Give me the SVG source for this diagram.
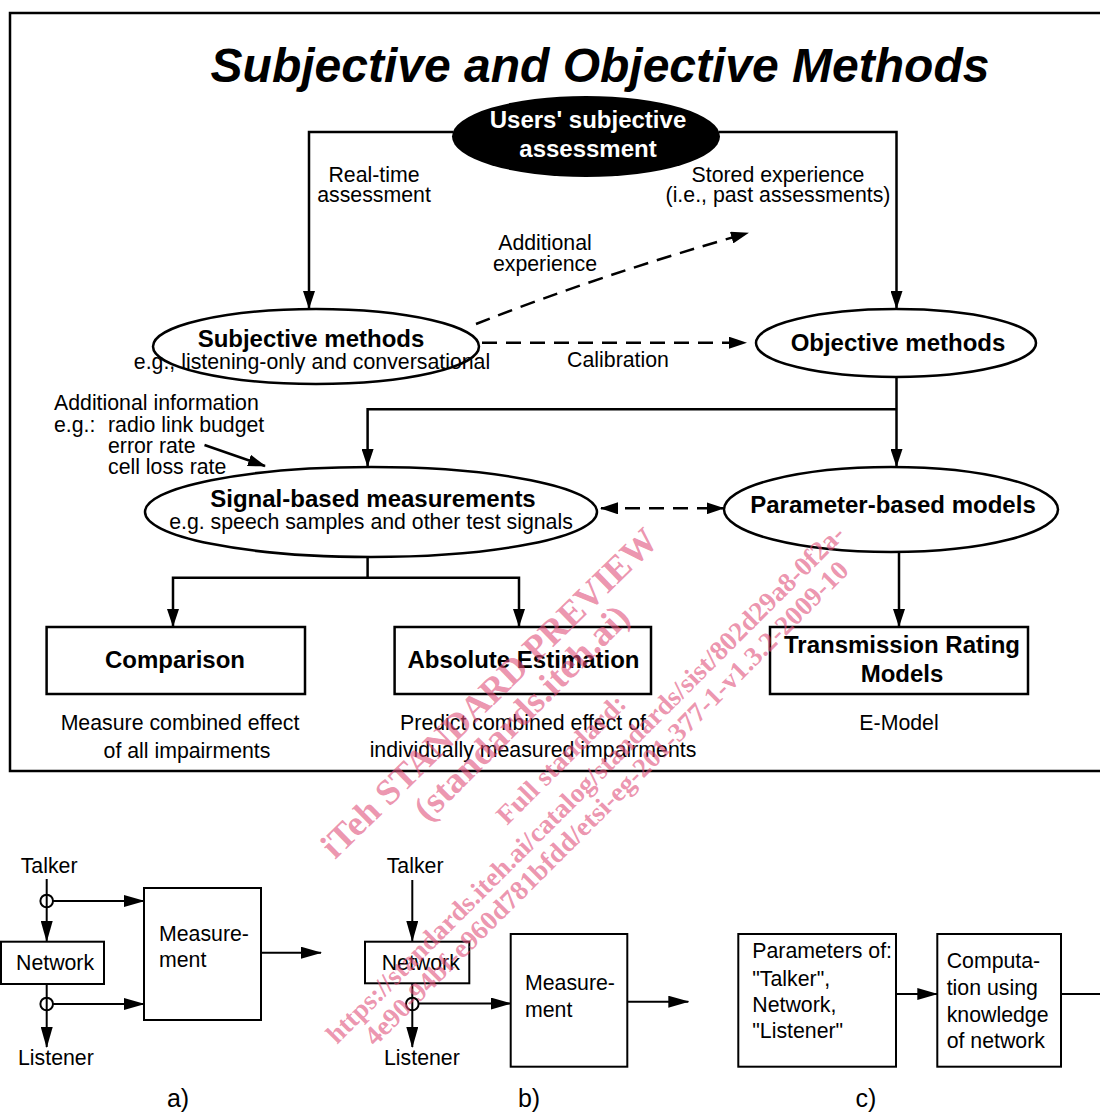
<svg xmlns="http://www.w3.org/2000/svg" width="1100" height="1115" viewBox="0 0 1100 1115">
<style>
text{font-family:"Liberation Sans",Arial,Helvetica,sans-serif;fill:#000}
.t{font-size:21.3px}
.b{font-size:24px;font-weight:bold}
.c{text-anchor:middle}
.title{font-size:48px;font-weight:bold;font-style:italic;text-anchor:middle}
.ln{fill:none;stroke:#000;stroke-width:2.5}
.ln2{fill:none;stroke:#000;stroke-width:2}
.dash{stroke-dasharray:15 9}
.node{fill:#fff;stroke:#000;stroke-width:2.5}
.box2{fill:#fff;stroke:#000;stroke-width:2}
.wm{font-family:"Liberation Serif","Times New Roman",serif;font-weight:bold;fill:#e0507a;fill-opacity:0.62}
</style>
<defs>
<marker id="ah" markerUnits="userSpaceOnUse" markerWidth="18" markerHeight="12" refX="17" refY="6" orient="auto-start-reverse"><path d="M0,0 L18,6 L0,12 z" fill="#000"/></marker>
<marker id="ah2" markerUnits="userSpaceOnUse" markerWidth="21" markerHeight="12" refX="20" refY="6" orient="auto"><path d="M0,0 L21,6 L0,12 z" fill="#000"/></marker>
</defs>
<rect width="1100" height="1115" fill="#fff"/>
<path class="ln" d="M1104,13 H10 V771 H1104"/>
<text class="title" x="600" y="82">Subjective and Objective Methods</text>

<g id="connectors">
<path class="ln" d="M453,132 H309 V308" marker-end="url(#ah)"/>
<path class="ln" d="M719,132 H896.5 V308" marker-end="url(#ah)"/>
<path class="ln dash" d="M476,324 Q600,275 748,233" marker-end="url(#ah)"/>
<path class="ln dash" d="M482,342.7 H746" marker-end="url(#ah)"/>
<path class="ln" d="M896.5,377 V466" marker-end="url(#ah)"/>
<path class="ln" d="M896.5,409.3 H367.6 V466" marker-end="url(#ah)"/>
<path class="ln" d="M204.5,445 L265,466" marker-end="url(#ah)"/>
<path class="ln dash" d="M601,508.3 H723.6" marker-start="url(#ah)" marker-end="url(#ah)"/>
<path class="ln" d="M367.6,557 V577.7 H173 V626" marker-end="url(#ah)"/>
<path class="ln" d="M367.6,577.7 H519 V626" marker-end="url(#ah)"/>
<path class="ln" d="M899,552 V626" marker-end="url(#ah)"/>
<path class="ln2" d="M46.7,879 V941" marker-end="url(#ah2)"/>
<path class="ln2" d="M53,901 H144" marker-end="url(#ah2)"/>
<path class="ln2" d="M46.7,984 V1047" marker-end="url(#ah2)"/>
<path class="ln2" d="M53,1004 H144" marker-end="url(#ah2)"/>
<path class="ln2" d="M261,952.7 H321" marker-end="url(#ah2)"/>
<path class="ln2" d="M412.3,880 V941" marker-end="url(#ah2)"/>
<path class="ln2" d="M412.3,983.3 V1047" marker-end="url(#ah2)"/>
<path class="ln2" d="M418.5,1003.5 H510.7" marker-end="url(#ah2)"/>
<path class="ln2" d="M627.3,1001.7 H688.3" marker-end="url(#ah2)"/>
<path class="ln2" d="M896,994 H937.3" marker-end="url(#ah2)"/>
<path class="ln2" d="M1061,994 H1120" marker-end="url(#ah2)"/>
<circle class="ln2" cx="46.7" cy="901" r="6.3"/>
<circle class="ln2" cx="46.7" cy="1004" r="6.3"/>
<circle class="ln2" cx="412.3" cy="1004" r="6.3"/>
</g>

<g id="labels">
<text class="t c" x="374" y="182">Real-time</text>
<text class="t c" x="374" y="202">assessment</text>
<text class="t c" x="778" y="182">Stored experience</text>
<text class="t c" x="778" y="202">(i.e., past assessments)</text>
<text class="t c" x="545" y="250">Additional</text>
<text class="t c" x="545" y="271">experience</text>
<text class="t c" x="618" y="367">Calibration</text>
<text class="t" x="54" y="410">Additional information</text>
<text class="t" x="54" y="432">e.g.:</text>
<text class="t" x="108" y="432">radio link budget</text>
<text class="t" x="108" y="452.5">error rate</text>
<text class="t" x="108" y="473.5">cell loss rate</text>
<text class="t c" x="180" y="730">Measure combined effect</text>
<text class="t c" x="187" y="758">of all impairments</text>
<text class="t c" x="523" y="730">Predict combined effect of</text>
<text class="t c" x="533" y="757">individually measured impairments</text>
<text class="t c" x="899" y="730">E-Model</text>
<text class="t c" x="178" y="1107" style="font-size:25px">a)</text>
<text class="t c" x="529" y="1107" style="font-size:25px">b)</text>
<text class="t c" x="866" y="1107" style="font-size:25px">c)</text>
<text class="t" x="20.7" y="872.7">Talker</text>
<text class="t" x="18" y="1065">Listener</text>
<text class="t" x="386.7" y="872.7">Talker</text>
<text class="t" x="384" y="1065">Listener</text>
</g>

<g id="users">
<ellipse cx="586" cy="136.5" rx="134" ry="40.5" fill="#000"/>
<text class="b c" x="588" y="128" style="fill:#fff">Users' subjective</text>
<text class="b c" x="588" y="157" style="fill:#fff">assessment</text>
</g>
<g id="subjective">
<ellipse class="node" cx="316" cy="346.5" rx="163" ry="37.5"/>
<text class="b c" x="311" y="347">Subjective methods</text>
<text class="t c" x="312" y="369">e.g., listening-only and conversational</text>
</g>
<g id="objective">
<ellipse class="node" cx="896" cy="343" rx="140" ry="34"/>
<text class="b c" x="898" y="351">Objective methods</text>
</g>
<g id="signal">
<ellipse class="node" cx="371" cy="512" rx="226" ry="45"/>
<text class="b c" x="373" y="507">Signal-based measurements</text>
<text class="t c" x="371" y="529">e.g. speech samples and other test signals</text>
</g>
<g id="parameter">
<ellipse class="node" cx="891" cy="509.5" rx="167" ry="42.5"/>
<text class="b c" x="893" y="513">Parameter-based models</text>
</g>
<g id="comparison">
<rect class="node" x="46.6" y="627" width="258.4" height="67"/>
<text class="b c" x="175" y="668">Comparison</text>
</g>
<g id="absolute">
<rect class="node" x="394.6" y="627" width="256.4" height="67"/>
<text class="b c" x="523.5" y="668">Absolute Estimation</text>
</g>
<g id="transmission">
<rect class="node" x="770" y="627" width="258" height="67"/>
<text class="b c" x="902" y="653">Transmission Rating</text>
<text class="b c" x="902" y="682">Models</text>
</g>

<g id="network-a">
<rect class="box2" x="1" y="941.7" width="103" height="42.3"/>
<text class="t" x="16" y="970">Network</text>
</g>
<g id="measurement-a">
<rect class="box2" x="144" y="888" width="117" height="132"/>
<text class="t" x="159" y="940.7">Measure-</text>
<text class="t" x="159" y="967.3">ment</text>
</g>
<g id="network-b">
<rect class="box2" x="365" y="941.7" width="104.3" height="41.6"/>
<text class="t" x="381.7" y="970">Network</text>
</g>
<g id="measurement-b">
<rect class="box2" x="510.7" y="934" width="116.6" height="132.7"/>
<text class="t" x="525" y="990">Measure-</text>
<text class="t" x="525" y="1016.7">ment</text>
</g>
<g id="parameters-c">
<rect class="box2" x="738.3" y="934" width="157.7" height="132.7"/>
<text class="t" x="752.3" y="958.3">Parameters of:</text>
<text class="t" x="752.3" y="985.7">"Talker",</text>
<text class="t" x="752.3" y="1011.7">Network,</text>
<text class="t" x="752.3" y="1038.3">"Listener"</text>
</g>
<g id="computation-c">
<rect class="box2" x="937.3" y="934" width="123.7" height="132.7"/>
<text class="t" x="946.7" y="968.3">Computa-</text>
<text class="t" x="946.7" y="995">tion using</text>
<text class="t" x="946.7" y="1021.7">knowledge</text>
<text class="t" x="946.7" y="1047.7">of network</text>
</g>

<g id="watermark">
<text class="wm" x="335" y="860" font-size="36" textLength="454" lengthAdjust="spacingAndGlyphs" transform="rotate(-44.3 335 860)">iTeh STANDARD PREVIEW</text>
<text class="wm" x="428" y="823" font-size="36" textLength="288" lengthAdjust="spacingAndGlyphs" transform="rotate(-45 428 823)">(standards.iteh.ai)</text>
<text class="wm" x="507" y="826" font-size="27" textLength="171" lengthAdjust="spacingAndGlyphs" transform="rotate(-45 507 826)">Full standard:</text>
<text class="wm" x="337" y="1045" font-size="27" textLength="720" lengthAdjust="spacingAndGlyphs" transform="rotate(-45 337 1045)">https://standards.iteh.ai/catalog/standards/sist/802d29a8-0f2a-</text>
<text class="wm" x="375" y="1047" font-size="27" textLength="672" lengthAdjust="spacingAndGlyphs" transform="rotate(-45 375 1047)">4e90-94bf-e960d781bfdd/etsi-eg-201-377-1-v1.3.2-2009-10</text>
</g>
</svg>
